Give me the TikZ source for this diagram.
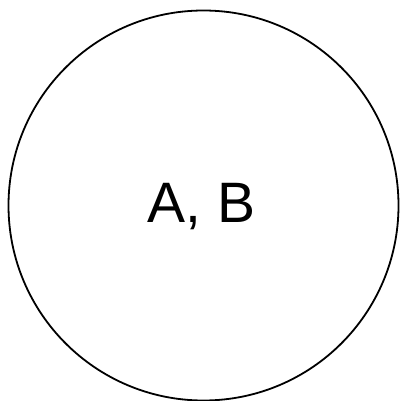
\documentclass[tikz,border=0pt]{standalone}
\usepackage{fontspec}
\setmainfont{Liberation Sans}
\tikzset{
  every path/.style={
    black
  },
  setcircle/.style={
    circle,
    draw,
    line width=1.8pt,
    minimum size=390pt,
    inner sep=0pt
  },
  every node/.style={
    inner sep=1.5pt
  }
}

\begin{document}
\begin{tikzpicture}[x=1pt,y=1pt]
\useasboundingbox (0,0) rectangle (400,-401);
\node[setcircle] (set) at (203.5,-205.5) {};
\node[font=\fontsize{57}{60}\selectfont] (ab) at (201.5,-207) {A, B};
\end{tikzpicture}
\end{document}
